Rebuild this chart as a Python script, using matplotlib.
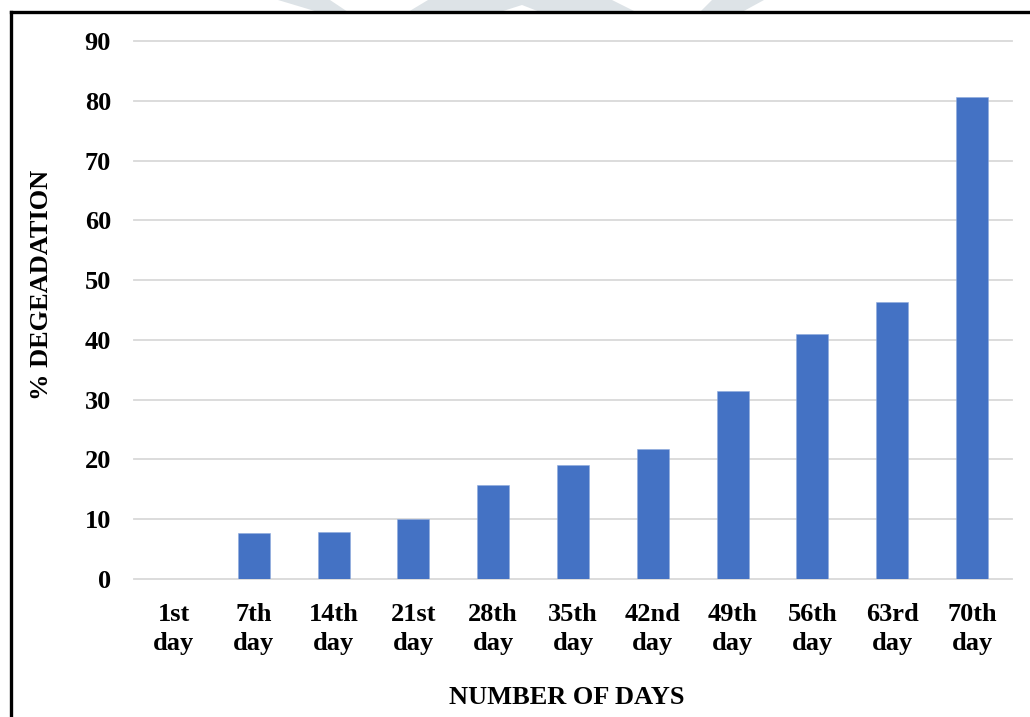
import matplotlib
matplotlib.use("Agg")
import matplotlib.pyplot as plt
from matplotlib.lines import Line2D
from matplotlib.patches import Polygon
import numpy as np

# % degradation measured at each sampling day
days = ["1st\nday", "7th\nday", "14th\nday", "21st\nday", "28th\nday", "35th\nday",
        "42nd\nday", "49th\nday", "56th\nday", "63rd\nday", "70th\nday"]
degradation = [0.0, 7.64, 7.86, 10.09, 15.67, 19.07, 21.75, 31.4, 40.98, 46.39, 80.58]
yticks = [0, 10, 20, 30, 40, 50, 60, 70, 80, 90]

plt.rcParams['font.family'] = ['Liberation Serif', 'DejaVu Serif']
plt.rcParams['font.weight'] = 'bold'

W, H = 1030, 717
fig = plt.figure(figsize=(W / 100, H / 100), dpi=100)
fig.patch.set_facecolor('white')

# faint page watermark peeking above the frame
wm = '#dde3e7'
shapes = [
    [(278, 0), (330, 0), (348, 12), (318, 12)],
    [(428, 0), (612, 0), (636, 12), (540, 12), (522, 5), (500, 12), (408, 12)],
    [(712, 0), (764, 0), (742, 12), (700, 12)],
]
for pts in shapes:
    fig.patches.append(Polygon([(x / W, 1 - y / H) for x, y in pts], closed=True,
                               transform=fig.transFigure, facecolor=wm,
                               edgecolor='none', zorder=0))

# frame lines (left and top)
fig.lines.append(Line2D([11 / W, 11 / W], [0, 1 - 12 / H], transform=fig.transFigure,
                        color='black', lw=2.4, solid_capstyle='projecting'))
fig.lines.append(Line2D([11 / W, 1], [1 - 12 / H, 1 - 12 / H], transform=fig.transFigure,
                        color='black', lw=2.4, solid_capstyle='projecting'))

ax = fig.add_axes([134 / W, 1 - 579 / H, (1012 - 134) / W, (579 - 41) / H])
x = np.arange(len(days))
ax.bar(x, degradation, width=0.4, color='#4472c4', edgecolor='#8faadc',
       linewidth=0.4, zorder=3)

ax.set_xlim(-0.5, len(days) - 0.5)
ax.set_ylim(0, 90)
ax.set_yticks(yticks)
ax.set_yticklabels([str(v) for v in yticks], fontsize=19, fontweight='bold')
ax.set_xticks(x)
ax.set_xticklabels(days, fontsize=19, fontweight='bold', linespacing=1.35)
ax.tick_params(axis='both', length=0)
ax.tick_params(axis='y', pad=16.5)
ax.tick_params(axis='x', pad=17)

for s in ax.spines.values():
    s.set_visible(False)
ax.yaxis.grid(True, color='#d9d9d9', lw=1.3, zorder=0)
for gl in ax.get_ygridlines():
    gl.set_clip_on(False)

fig.text(42 / W, 1 - 285 / H, '% DEGEADATION', rotation=90, ha='center', va='center',
         fontsize=19, fontweight='bold')
fig.text(567 / W, 1 - 698 / H, 'NUMBER OF DAYS', ha='center', va='center',
         fontsize=19, fontweight='bold')

fig.savefig('out.png', dpi=100)
